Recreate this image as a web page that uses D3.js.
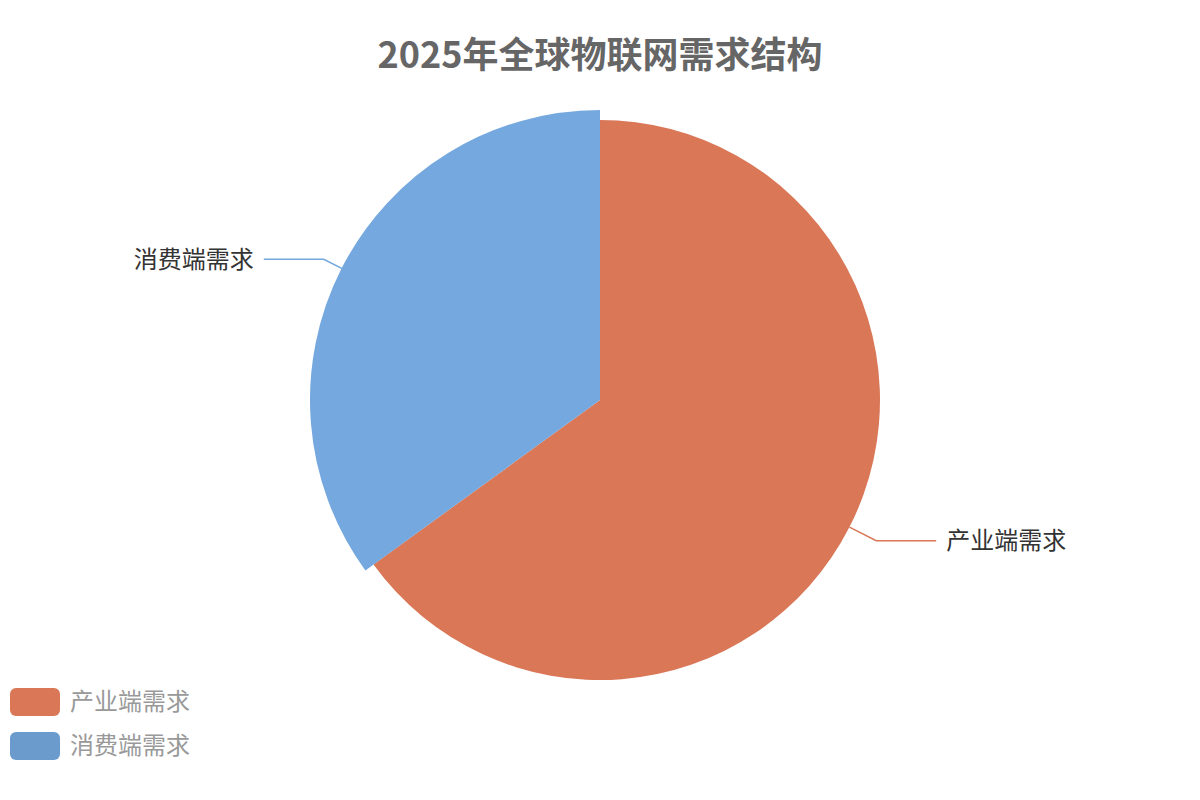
<!DOCTYPE html>
<html>
<head>
<meta charset="utf-8">
<script src="https://cdn.jsdelivr.net/npm/d3@7"></script>
<style>
  body { margin: 0; background: #fff; }
  text { font-family: "Noto Sans CJK SC", "Noto Sans", sans-serif; }
</style>
</head>
<body>
<div id="chart"></div>
<script>
// data
const categories = ["产业端需求", "消费端需求"];
const values = [65, 35];
const sliceColors = ["#d97757", "#74a8de"];
const legendColors = ["#d97757", "#6a9bcc"];

const WIDTH = 1200, HEIGHT = 800;
const CX = 600, CY = 400, RADIUS = 280;

const svg = d3.select("#chart").append("svg")
  .attr("width", WIDTH)
  .attr("height", HEIGHT);

svg.append("text")
  .attr("x", WIDTH / 2)
  .attr("y", 68)
  .attr("text-anchor", "middle")
  .attr("font-size", "36px")
  .attr("font-weight", "bold")
  .attr("fill", "#666")
  .text("2025年全球物联网需求结构");

const data = categories.map((c, i) => ({key: c, value: values[i], color: sliceColors[i]}));

const pie = d3.pie().value(d => d.value).sort(null);
const arcs = pie(data);

const g = svg.append("g").attr("transform", `translate(${CX},${CY})`);

// leader lines (under the slices)
arcs.forEach(d => {
  const mid = (d.startAngle + d.endAngle) / 2;
  const sx = Math.sin(mid), sy = -Math.cos(mid);
  const p0 = [sx * RADIUS, sy * RADIUS];
  const p1 = [sx * (RADIUS + 30), sy * (RADIUS + 30)];
  const dir = sx >= 0 ? 1 : -1;
  const p2 = [p1[0] + dir * 60, p1[1]];
  g.append("polyline")
    .attr("points", [p0, p1, p2].map(p => p.join(",")).join(" "))
    .attr("fill", "none")
    .attr("stroke", d.data.color)
    .attr("stroke-width", 1.5);
  g.append("text")
    .attr("x", p2[0] + dir * 10)
    .attr("y", p2[1])
    .attr("dy", "0.35em")
    .attr("text-anchor", dir > 0 ? "start" : "end")
    .attr("font-size", "24px")
    .attr("fill", "#333")
    .text(d.data.key);
});

// slices, the second one drawn larger (emphasised)
g.selectAll("path.slice")
  .data(arcs)
  .enter()
  .append("path")
  .attr("class", "slice")
  .attr("d", (d, i) => d3.arc().innerRadius(0).outerRadius(i === 1 ? RADIUS + 10 : RADIUS)(d))
  .attr("fill", d => d.data.color);

// legend
const legend = svg.selectAll("g.legend")
  .data(categories)
  .enter()
  .append("g")
  .attr("class", "legend")
  .attr("transform", (d, i) => `translate(10, ${688 + i * 44})`);

legend.append("rect")
  .attr("width", 50)
  .attr("height", 28)
  .attr("rx", 6)
  .attr("fill", (d, i) => legendColors[i]);

legend.append("text")
  .attr("x", 60)
  .attr("y", 14)
  .attr("dy", "0.35em")
  .attr("font-size", "24px")
  .attr("fill", "#999")
  .text(d => d);
</script>
</body>
</html>
